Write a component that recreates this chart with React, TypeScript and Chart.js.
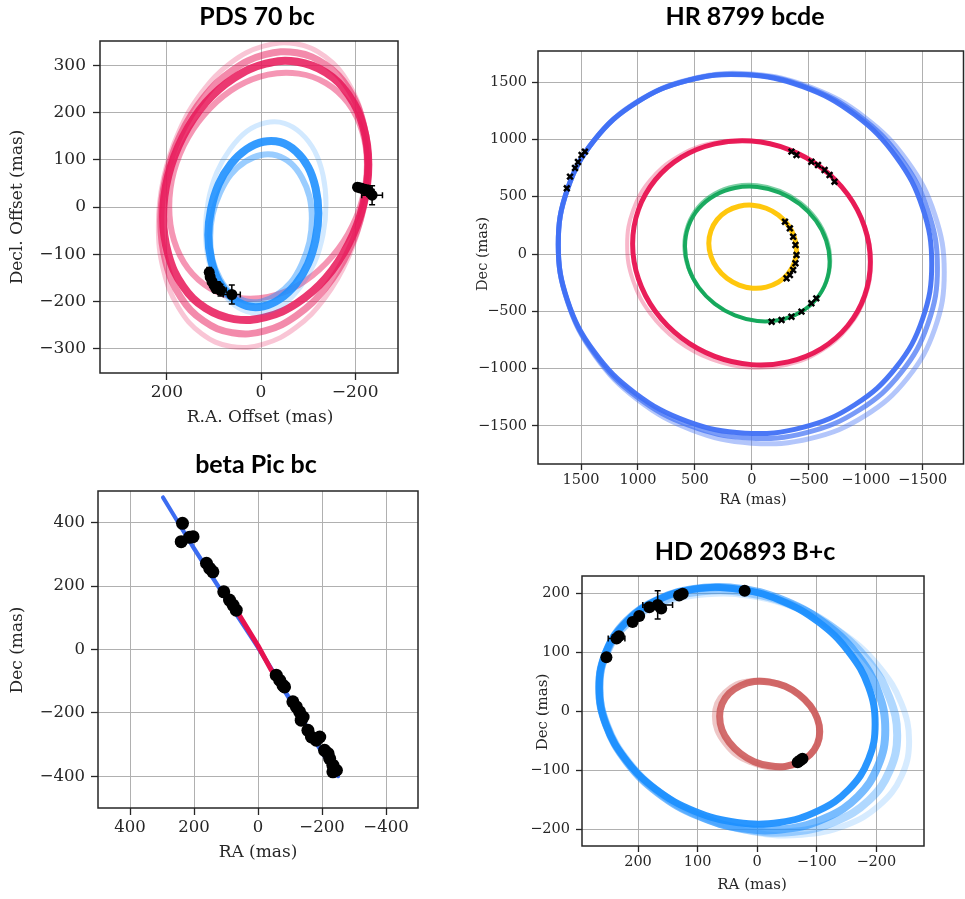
import React, { useEffect, useRef } from "react";
import { Chart, registerables } from "chart.js";

Chart.register(...registerables);

type Pt = [number, number];

// ================= PDS 70 bc =================
const pdsXTicks = [200, 0, -200];
const pdsYTicks = [300, 200, 100, 0, -100, -200, -300];
const pdsBCore: Pt[] = [[-228, 90], [-217, 170], [-186, 237], [-138, 284], [-77, 307], [-10, 303], [57, 273], [118, 220], [166, 148], [197, 66], [208, -20], [197, -100], [166, -167], [118, -214], [57, -237], [-10, -233], [-77, -203], [-138, -150], [-186, -78], [-217, 4]];
const pdsBMid: Pt[] = [[-228, 90], [-217, 177], [-186, 250], [-137, 301], [-76, 326], [-8, 322], [61, 289], [122, 231], [171, 153], [202, 63], [213, -30], [202, -117], [171, -190], [122, -241], [61, -266], [-8, -262], [-76, -229], [-137, -171], [-186, -93], [-217, -3]];
const pdsBOuter: Pt[] = [[-228, 90], [-217, 184], [-185, 263], [-136, 318], [-74, 345], [-5, 340], [64, 305], [126, 242], [175, 158], [207, 61], [218, -40], [207, -134], [175, -213], [126, -268], [64, -295], [-5, -290], [-74, -255], [-136, -192], [-185, -108], [-217, -10]];
const pdsBInner: Pt[] = [[-225, 90], [-215, 160], [-185, 220], [-138, 262], [-80, 282], [-15, 280], [50, 255], [108, 209], [155, 147], [185, 75], [195, 0], [185, -70], [155, -130], [108, -172], [50, -192], [-15, -190], [-80, -165], [-138, -119], [-185, -57], [-215, 15]];
const pdsCCore: Pt[] = [[-122, -13], [-116, 40], [-100, 85], [-74, 118], [-41, 137], [-5, 138], [31, 122], [64, 91], [90, 48], [106, -4], [112, -59], [106, -112], [90, -157], [64, -190], [31, -209], [-5, -210], [-41, -194], [-74, -163], [-100, -120], [-116, -68]];
const pdsCOuter: Pt[] = [[-138, 6], [-132, 66], [-114, 118], [-85, 156], [-50, 177], [-10, 178], [30, 160], [65, 123], [94, 73], [112, 13], [118, -50], [112, -110], [94, -162], [65, -200], [30, -221], [-10, -222], [-50, -204], [-85, -167], [-114, -117], [-132, -57]];
const pdsCInner: Pt[] = [[-108, -25], [-103, 22], [-87, 62], [-64, 92], [-33, 109], [0, 110], [33, 96], [64, 69], [87, 30], [103, -16], [108, -65], [103, -112], [87, -152], [64, -182], [33, -199], [0, -200], [-33, -186], [-64, -159], [-87, -120], [-103, -74]];
const pdsBObsX = [-205, -212, -218, -224, -230, -236];
const pdsBObsY = [42, 40, 38, 36, 32, 25];
const pdsBObsErrX = [8, 8, 8, 10, 10, 22];
const pdsBObsErrY = [8, 8, 8, 10, 10, 20];
const pdsCObsX = [110, 108, 104, 100, 96, 92, 86, 62];
const pdsCObsY = [-138, -148, -158, -165, -172, -168, -176, -185];
const pdsCObsErrX = [8, 8, 8, 8, 8, 8, 12, 18];
const pdsCObsErrY = [10, 10, 10, 10, 10, 10, 12, 20];

// ================= HR 8799 bcde =================
const hrTicks = [1500, 1000, 500, 0, -500, -1000, -1500];
const hrBInner: Pt[] = [[1700, 86], [1620, 565], [1387, 989], [1024, 1315], [567, 1513], [60, 1563], [-447, 1460], [-904, 1214], [-1267, 849], [-1500, 401], [-1580, -86], [-1500, -565], [-1267, -989], [-904, -1315], [-447, -1513], [60, -1563], [567, -1460], [1024, -1214], [1387, -849], [1620, -401]];
const hrBMid: Pt[] = [[1700, 80], [1618, 565], [1382, 993], [1014, 1321], [550, 1518], [35, 1565], [-480, 1456], [-944, 1204], [-1312, 831], [-1548, 375], [-1630, -120], [-1548, -605], [-1312, -1033], [-944, -1361], [-480, -1558], [35, -1605], [550, -1496], [1014, -1244], [1382, -871], [1618, -415]];
const hrBOuter: Pt[] = [[1700, 80], [1617, 572], [1376, 1004], [1002, 1333], [529, 1528], [5, 1570], [-519, 1454], [-992, 1192], [-1366, 810], [-1607, 343], [-1690, -160], [-1607, -652], [-1366, -1084], [-992, -1413], [-519, -1608], [5, -1650], [529, -1534], [1002, -1272], [1376, -890], [1617, -423]];
const hrCCore: Pt[] = [[1047, 88], [996, 386], [848, 646], [617, 845], [326, 961], [3, 985], [-320, 913], [-611, 753], [-842, 520], [-990, 237], [-1041, -68], [-990, -365], [-842, -626], [-611, -825], [-320, -941], [3, -965], [326, -893], [617, -733], [848, -500], [996, -217]];
const hrCOuter: Pt[] = [[1095, 78], [1043, 380], [891, 645], [654, 847], [356, 966], [25, 990], [-306, 917], [-604, 755], [-841, 519], [-993, 232], [-1045, -78], [-993, -380], [-841, -645], [-604, -847], [-306, -966], [25, -990], [356, -917], [654, -755], [891, -519], [1043, -232]];
const hrDCore: Pt[] = [[587, 65], [556, 243], [466, 397], [325, 511], [148, 576], [-48, 585], [-244, 536], [-421, 435], [-562, 291], [-652, 119], [-683, -65], [-652, -243], [-562, -397], [-421, -511], [-244, -576], [-48, -585], [148, -536], [325, -435], [466, -291], [556, -119]];
const hrDOuter: Pt[] = [[597, 75], [565, 256], [474, 413], [331, 530], [151, 596], [-48, 605], [-247, 556], [-427, 453], [-570, 307], [-661, 132], [-693, -55], [-661, -236], [-570, -393], [-427, -510], [-247, -576], [-48, -585], [151, -536], [331, -433], [474, -287], [565, -112]];
const hrECore: Pt[] = [[378, 93], [359, 203], [305, 300], [219, 374], [112, 417], [-7, 426], [-126, 399], [-233, 340], [-318, 253], [-373, 148], [-392, 35], [-373, -76], [-318, -172], [-233, -246], [-126, -289], [-7, -298], [112, -271], [219, -212], [305, -125], [359, -20]];
const hrBObsX = [1625, 1597, 1553, 1527, 1495, 1466];
const hrBObsY = [573, 675, 750, 803, 864, 893];
const hrCObsX = [-348, -392, -523, -581, -639, -683, -726];
const hrCObsY = [893, 864, 805, 777, 733, 689, 631];
const hrDObsX = [-174, -261, -348, -436, -523, -566];
const hrDObsY = [-591, -576, -547, -503, -430, -387];
const hrEObsX = [-291, -334, -363, -383, -392, -383, -363, -334, -305];
const hrEObsY = [282, 224, 151, 79, -9, -81, -140, -183, -212];

// ================= beta Pic bc =================
const bpTicks = [400, 200, 0, -200, -400];
const bpBOrbit: Pt[] = [[297, 480], [200, 318], [100, 160], [0, 6], [-100, -160], [-200, -325], [-250, -400], [-245, -388], [-195, -312], [-95, -148], [5, 16], [105, 170], [205, 328], [297, 480]];
const bpCOrbit: Pt[] = [[62, 114], [0, 12], [-42, -66]];
const bpObsX = [236, 240, 214, 203, 161, 151, 141, 107, 89, 78, 68, -57, -68, -78, -83, -109, -120, -130, -141, -135, -156, -167, -182, -193, -208, -219, -224, -234, -245, -234];
const bpObsY = [398, 340, 354, 356, 272, 256, 245, 182, 156, 140, 124, -81, -97, -113, -118, -165, -181, -197, -213, -223, -255, -276, -286, -276, -318, -328, -344, -365, -381, -386];
const bpObsErrX = [0, 15, 0, 0, 0, 0, 0, 0, 0, 0, 0, 0, 0, 0, 0, 0, 0, 0, 0, 0, 0, 0, 0, 0, 0, 0, 0, 0, 0, 0];
const bpObsErrY = [0, 12, 0, 0, 0, 0, 0, 0, 0, 0, 0, 0, 0, 0, 0, 0, 0, 0, 0, 0, 0, 0, 0, 0, 0, 0, 0, 0, 0, 0];

// ================= HD 206893 B+c =================
const hdTicks = [200, 100, 0, -100, -200];
const hdBCore: Pt[] = [[265, 41], [254, 101], [221, 151], [170, 188], [105, 208], [34, 208], [-38, 189], [-103, 152], [-154, 101], [-187, 42], [-198, -21], [-187, -81], [-154, -132], [-103, -168], [-38, -188], [34, -188], [105, -169], [170, -132], [221, -81], [254, -22]];
const hdBMid: Pt[] = [[265, 41], [253, 102], [219, 154], [166, 190], [99, 209], [25, 208], [-49, 187], [-116, 148], [-169, 95], [-203, 34], [-215, -31], [-203, -92], [-169, -144], [-116, -180], [-49, -199], [25, -198], [99, -177], [166, -138], [219, -85], [253, -24]];
const hdBFar: Pt[] = [[265, 40], [252, 101], [217, 151], [162, 186], [92, 204], [15, 201], [-62, 179], [-132, 139], [-187, 85], [-222, 24], [-235, -40], [-222, -101], [-187, -151], [-132, -186], [-62, -204], [15, -201], [92, -179], [162, -139], [217, -85], [252, -24]];
const hdBOuter: Pt[] = [[265, 40], [252, 100], [215, 149], [158, 183], [85, 199], [5, 195], [-75, 171], [-148, 130], [-205, 76], [-242, 14], [-255, -50], [-242, -110], [-205, -159], [-148, -193], [-75, -209], [5, -205], [85, -181], [158, -140], [215, -86], [252, -24]];
const hdCCore: Pt[] = [[63, -8], [59, 13], [47, 31], [28, 44], [5, 51], [-21, 50], [-47, 43], [-70, 29], [-89, 10], [-101, -12], [-105, -34], [-101, -55], [-89, -73], [-70, -86], [-47, -93], [-21, -92], [5, -85], [28, -71], [47, -52], [59, -31]];
const hdCOuter: Pt[] = [[71, -8], [67, 14], [54, 32], [35, 46], [10, 52], [-17, 52], [-44, 44], [-69, 31], [-88, 11], [-101, -11], [-105, -34], [-101, -56], [-88, -74], [-69, -88], [-44, -94], [-17, -94], [10, -86], [35, -73], [54, -53], [67, -31]];
const hdBObsX = [253, 236, 232, 209, 198, 181, 167, 161, 131, 125, 21];
const hdBObsY = [92, 124, 128, 152, 162, 177, 181, 175, 197, 200, 205];
const hdBObsErrX = [0, 14, 0, 0, 0, 0, 25, 0, 0, 0, 0];
const hdBObsErrY = [0, 6, 0, 0, 0, 0, 24, 0, 0, 0, 0];
const hdCObsX = [-68, -72, -76];
const hdCObsY = [-86, -83, -80];

// ================= helpers =================
// closed curve: wrap one point on each side so every visible segment gets smooth control points
const loop = (p: Pt[]) => [p[p.length - 1], ...p, p[0], p[1]].map(([x, y]) => ({ x, y }));
const line = (p: Pt[]) => p.map(([x, y]) => ({ x, y }));
const xy = (xs: number[], ys: number[]) => xs.map((x, i) => ({ x, y: ys[i] }));

function orbit(data: any[], color: string, width: number, order: number, closed = true, tension = 0.4) {
  const last = data.length - 2;
  return {
    data, showLine: true, tension, borderColor: color, borderWidth: width,
    pointRadius: 0, pointHoverRadius: 0, fill: false,
    borderCapStyle: "round", borderJoinStyle: "round", order,
    segment: closed
      ? { borderColor: (c: any) => (c.p0DataIndex === 0 || c.p0DataIndex === last ? "rgba(0,0,0,0)" : undefined) }
      : undefined,
  };
}
function marks(data: any[], radius: number, style = "circle", errX?: number[], errY?: number[], border = 0) {
  return {
    data, showLine: false, pointStyle: style, pointRadius: radius, pointHoverRadius: radius,
    backgroundColor: "#000", borderColor: "#000", borderWidth: border, order: 0, errX, errY,
  };
}

const fmt = (v: any) => {
  const n = Number(v);
  return n < 0 ? "\u2212" + Math.abs(n) : String(n);
};

type TextSpec = { text: string; x: number; y: number; size: number; bold?: boolean; rot?: boolean };
type Panel = {
  left: number; top: number; width: number; height: number;
  area: { l: number; t: number; r: number; b: number };
  xMin: number; xMax: number; yMin: number; yMax: number;
  xTicks: number[]; yTicks: number[];
  tickSize: number; tickLen: number; xPad: number; yPad: number;
  texts: TextSpec[]; datasets: any[];
};

const RED = "rgba(232,22,88,";
const DBLUE = "rgba(30,144,255,";
const panels: Panel[] = [
  {
    left: 0, top: 0, width: 450, height: 440,
    area: { l: 100, t: 41, r: 398, b: 373 },
    xMin: -291, xMax: 342, yMin: -351, yMax: 351,
    xTicks: pdsXTicks, yTicks: pdsYTicks, tickSize: 17, tickLen: 7, xPad: 2, yPad: 7,
    texts: [
      { text: "PDS 70 bc", x: 257, y: 25, size: 25, bold: true },
      { text: "Decl. Offset (mas)", x: 18, y: 207, size: 17, rot: true },
      { text: "R.A. Offset (mas)", x: 260, y: 418, size: 17 },
    ],
    datasets: [
      marks(xy(pdsBObsX, pdsBObsY), 5.5, "circle", pdsBObsErrX, pdsBObsErrY),
      marks(xy(pdsCObsX, pdsCObsY), 5.5, "circle", pdsCObsErrX, pdsCObsErrY),
      orbit(loop(pdsCCore), DBLUE + "0.9)", 8, 1),
      orbit(loop(pdsCInner), DBLUE + "0.45)", 6, 2),
      orbit(loop(pdsCOuter), DBLUE + "0.2)", 5, 3),
      orbit(loop(pdsBCore), RED + "0.85)", 8, 4),
      orbit(loop(pdsBMid), RED + "0.5)", 7, 5),
      orbit(loop(pdsBInner), RED + "0.45)", 6, 6),
      orbit(loop(pdsBOuter), RED + "0.25)", 5, 7),
    ],
  },
  {
    left: 450, top: 0, width: 520, height: 520,
    area: { l: 88, t: 51, r: 517, b: 464 },
    xMin: -1859, xMax: 1878, yMin: -1832, yMax: 1771,
    xTicks: hrTicks, yTicks: hrTicks, tickSize: 14.5, tickLen: 6, xPad: 2, yPad: 5,
    texts: [
      { text: "HR 8799 bcde", x: 745, y: 25, size: 25, bold: true },
      { text: "Dec (mas)", x: 483, y: 254, size: 14.5, rot: true },
      { text: "RA (mas)", x: 753, y: 500, size: 14.5 },
    ],
    datasets: [
      marks(xy(hrBObsX, hrBObsY), 4, "crossRot", undefined, undefined, 2.5),
      marks(xy(hrCObsX, hrCObsY), 4, "crossRot", undefined, undefined, 2.5),
      marks(xy(hrDObsX, hrDObsY), 4, "crossRot", undefined, undefined, 2.5),
      marks(xy(hrEObsX, hrEObsY), 4, "crossRot", undefined, undefined, 2.5),
      orbit(loop(hrECore), "rgba(255,196,0,0.95)", 5, 2),
      orbit(loop(hrDCore), "rgba(16,166,88,0.95)", 4, 3),
      orbit(loop(hrDOuter), "rgba(16,166,88,0.55)", 3, 4),
      orbit(loop(hrCCore), "rgba(232,18,80,0.95)", 5, 5),
      orbit(loop(hrCOuter), "rgba(232,18,80,0.3)", 4, 6),
      orbit(loop(hrBInner), "rgba(64,112,245,0.95)", 5, 7),
      orbit(loop(hrBMid), "rgba(64,112,245,0.7)", 5, 8),
      orbit(loop(hrBOuter), "rgba(64,112,245,0.4)", 5, 9),
    ],
  },
  {
    left: 0, top: 440, width: 450, height: 459,
    area: { l: 98, t: 51, r: 418, b: 368 },
    xMin: -500, xMax: 500, yMin: -500, yMax: 500,
    xTicks: bpTicks, yTicks: bpTicks, tickSize: 16.5, tickLen: 7, xPad: 3, yPad: 6,
    texts: [
      { text: "beta Pic bc", x: 256, y: 473, size: 25, bold: true },
      { text: "Dec (mas)", x: 18, y: 650, size: 17, rot: true },
      { text: "RA (mas)", x: 258, y: 853, size: 17 },
    ],
    datasets: [
      marks(xy(bpObsX, bpObsY), 6.5, "circle", bpObsErrX, bpObsErrY),
      orbit(line(bpCOrbit), "rgba(230,18,80,1)", 5, 2, false, 0),
      orbit(line(bpBOrbit), "rgba(50,100,240,0.95)", 4, 3, false, 0.2),
    ],
  },
  {
    left: 520, top: 520, width: 450, height: 379,
    area: { l: 62, t: 56, r: 404, b: 326 },
    xMin: -280, xMax: 294, yMin: -228, yMax: 230,
    xTicks: hdTicks, yTicks: hdTicks, tickSize: 14.5, tickLen: 6, xPad: 2, yPad: 6,
    texts: [
      { text: "HD 206893 B+c", x: 745, y: 560, size: 25, bold: true },
      { text: "Dec (mas)", x: 543, y: 712, size: 15, rot: true },
      { text: "RA (mas)", x: 752, y: 885, size: 15 },
    ],
    datasets: [
      marks(xy(hdBObsX, hdBObsY), 6, "circle", hdBObsErrX, hdBObsErrY),
      marks(xy(hdCObsX, hdCObsY), 6, "circle"),
      orbit(loop(hdCCore), "rgba(205,92,92,0.9)", 7, 2),
      orbit(loop(hdCOuter), "rgba(205,92,92,0.35)", 6, 3),
      orbit(loop(hdBCore), DBLUE + "0.95)", 7, 4),
      orbit(loop(hdBMid), DBLUE + "0.6)", 8, 5),
      orbit(loop(hdBFar), DBLUE + "0.35)", 8, 6),
      orbit(loop(hdBOuter), DBLUE + "0.18)", 6, 7),
    ],
  },
];

function makeConfig(p: Panel): any {
  const framePlugin = {
    id: "frame",
    afterDraw(chart: any) {
      const { ctx, chartArea: a } = chart;
      ctx.save();
      ctx.strokeStyle = "#262626";
      ctx.lineWidth = 1.5;
      ctx.strokeRect(a.left, a.top, a.right - a.left, a.bottom - a.top);
      ctx.restore();
    },
  };
  const errPlugin = {
    id: "errbars",
    afterDatasetsDraw(chart: any) {
      const ctx = chart.ctx;
      const xs = chart.scales.x, ys = chart.scales.y;
      chart.data.datasets.forEach((ds: any) => {
        if (!ds.errX && !ds.errY) return;
        ctx.save();
        ctx.strokeStyle = "#000";
        ctx.lineWidth = 1.5;
        const cap = 3;
        ds.data.forEach((pt: any, i: number) => {
          const px = xs.getPixelForValue(pt.x), py = ys.getPixelForValue(pt.y);
          const ex = ds.errX ? ds.errX[i] : 0, ey = ds.errY ? ds.errY[i] : 0;
          ctx.beginPath();
          if (ex) {
            const x1 = xs.getPixelForValue(pt.x - ex), x2 = xs.getPixelForValue(pt.x + ex);
            ctx.moveTo(x1, py); ctx.lineTo(x2, py);
            ctx.moveTo(x1, py - cap); ctx.lineTo(x1, py + cap);
            ctx.moveTo(x2, py - cap); ctx.lineTo(x2, py + cap);
          }
          if (ey) {
            const y1 = ys.getPixelForValue(pt.y - ey), y2 = ys.getPixelForValue(pt.y + ey);
            ctx.moveTo(px, y1); ctx.lineTo(px, y2);
            ctx.moveTo(px - cap, y1); ctx.lineTo(px + cap, y1);
            ctx.moveTo(px - cap, y2); ctx.lineTo(px + cap, y2);
          }
          ctx.stroke();
        });
        ctx.restore();
      });
    },
  };
  const textPlugin = {
    id: "texts",
    afterDraw(chart: any) {
      const ctx = chart.ctx;
      p.texts.forEach((t) => {
        ctx.save();
        ctx.fillStyle = t.bold ? "#000" : "#262626";
        ctx.font = t.bold ? `700 ${t.size}px Lato, "Noto Sans", sans-serif` : `${t.size}px "DejaVu Serif", serif`;
        ctx.textAlign = "center";
        ctx.textBaseline = t.bold ? "alphabetic" : "middle";
        ctx.translate(t.x - p.left, t.y - p.top);
        if (t.rot) ctx.rotate(-Math.PI / 2);
        ctx.fillText(t.text, 0, 0);
        ctx.restore();
      });
    },
  };
  const tickFont = { family: '"DejaVu Serif", serif', size: p.tickSize };
  const grid = { color: "#b0b0b0", lineWidth: 1, tickLength: p.tickLen, tickColor: "#262626", tickWidth: 1.3, drawTicks: true };
  return {
    type: "scatter",
    data: { datasets: p.datasets },
    options: {
      responsive: false,
      animation: false,
      devicePixelRatio: 1,
      events: [],
      layout: { padding: { left: 0, top: p.area.t, right: p.width - p.area.r, bottom: 0 } },
      plugins: { legend: { display: false }, tooltip: { enabled: false }, title: { display: false } },
      scales: {
        x: {
          type: "linear", reverse: true, min: p.xMin, max: p.xMax,
          afterBuildTicks: (s: any) => { s.ticks = p.xTicks.map((v) => ({ value: v })); },
          afterFit: (s: any) => { s.height = p.height - p.area.b; },
          ticks: { callback: fmt, font: tickFont, color: "#262626", padding: p.xPad, maxRotation: 0, autoSkip: false },
          grid, border: { display: false },
        },
        y: {
          type: "linear", min: p.yMin, max: p.yMax,
          afterBuildTicks: (s: any) => { s.ticks = p.yTicks.map((v) => ({ value: v })); },
          afterFit: (s: any) => { s.width = p.area.l; },
          ticks: { callback: fmt, font: tickFont, color: "#262626", padding: p.yPad, autoSkip: false },
          grid, border: { display: false },
        },
      },
    },
    plugins: [errPlugin, framePlugin, textPlugin],
  };
}

function PanelChart({ p }: { p: Panel }) {
  const ref = useRef<HTMLCanvasElement>(null);
  useEffect(() => {
    const chart = new Chart(ref.current as HTMLCanvasElement, makeConfig(p));
    return () => chart.destroy();
  }, [p]);
  return (
    <canvas
      ref={ref}
      width={p.width}
      height={p.height}
      style={{ position: "absolute", left: p.left, top: p.top, width: p.width, height: p.height }}
    />
  );
}

export default function App() {
  return (
    <div style={{ position: "absolute", left: 0, top: 0, width: 965, height: 899, overflow: "hidden", background: "#fff" }}>
      {panels.map((p, i) => (
        <PanelChart key={i} p={p} />
      ))}
    </div>
  );
}
